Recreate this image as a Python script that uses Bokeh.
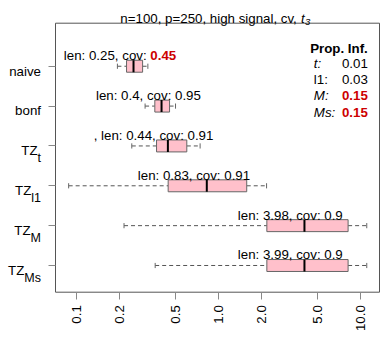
import math
from bokeh.plotting import figure
from bokeh.models import Label, FixedTicker, Range1d, ColumnDataSource
from bokeh.embed import file_html
from bokeh.resources import INLINE

# ---------------- data ----------------
methods = ["naive", "bonf", "TZ_t", "TZ_l1", "TZ_M", "TZ_Ms"]
axis_main = ["naive", "bonf", "TZ", "TZ", "TZ", "TZ"]
axis_sub = ["", "", "t", "l1", "M", "Ms"]
lower_whisker = [0.194, 0.304, 0.245, 0.088, 0.216, 0.358]
q1 = [0.225, 0.356, 0.366, 0.442, 2.19, 2.19]
median = [0.252, 0.397, 0.44, 0.827, 4.03, 4.03]
q3 = [0.292, 0.452, 0.598, 1.58, 8.18, 8.18]
upper_whisker = [0.318, 0.498, 0.742, 2.18, 11.07, 11.07]
len_text = ["0.25", "0.4", "0.44", "0.83", "3.98", "3.99"]
cov_text = ["0.45", "0.95", "0.91", "0.91", "0.9", "0.9"]
label_lead = ["", "", ", ", "", "", ""]
cov_highlight = [True, False, False, False, False, False]
label_x = [0.0814, 0.137, 0.132, 0.270, 1.367, 1.367]   # left edge of each annotation

prop_names = ["t:", "l1:", "M:", "Ms:"]
prop_italic = [True, False, True, True]
prop_values = ["0.01", "0.03", "0.15", "0.15"]
prop_highlight = [False, False, True, True]

x_ticks = [0.1, 0.2, 0.5, 1, 2, 5, 10]
x_tick_labels = ["0.1", "0.2", "0.5", "1.0", "2.0", "5.0", "10.0"]

title_main = "n=100, p=250, high signal, cv, "
title_var = "t"
title_sub = "3"

# ---------------- layout ----------------
W, H = 388, 347
FONT = "Liberation Sans"
FS = "13.3px"
RED = "#CD0000"
XS, XE = 0.0711, 13.61          # plotting box limits (data)
YS, YE = 0.33, 7.08
FL, FT, FW, FH = 55, 22.7, 324, 269   # plotting box in canvas pixels

def xd(px):
    return 10 ** (math.log10(XS) + (px - FL) / FW * (math.log10(XE) - math.log10(XS)))

def xp(v):
    return FL + (math.log10(v) - math.log10(XS)) / (math.log10(XE) - math.log10(XS)) * FW

def yd(py):
    return YE - (py - FT) / FH * (YE - YS)

def yp(v):
    return FT + (YE - v) / (YE - YS) * FH

AW = {' ': 278, ',': 278, '.': 278, ':': 278, 'l': 222, 'e': 556, 'n': 556,
      'c': 500, 'o': 556, 'v': 500, 't': 278, 'M': 833, 's': 500, 'T': 611, 'Z': 611}
def tw(s, size):
    return sum(AW.get(ch, 556) for ch in s) * size / 1000.0

n = len(methods)
ypos = [n - i for i in range(n)]
half = 0.15
cap = 0.065

src = ColumnDataSource(dict(
    y=ypos, lw=lower_whisker, q1=q1, med=median, q3=q3, uw=upper_whisker,
    yb=[v - half for v in ypos], yt=[v + half for v in ypos],
    cb=[v - cap for v in ypos], ct=[v + cap for v in ypos],
))

p = figure(x_axis_type="log", x_range=Range1d(xd(0), xd(W)), y_range=Range1d(yd(H), yd(0)),
           frame_width=W, frame_height=H, min_border=0,
           output_backend="svg", toolbar_location=None, title=None)
p.grid.visible = False
p.background_fill_color = "white"
p.border_fill_color = "white"
p.outline_line_color = None

# plotting box
p.quad(left=[XS], right=[XE], bottom=[YS], top=[YE], fill_color=None,
       line_color="#555555", line_width=1)

# whiskers
wd = dict(line_color="#555555", line_width=1, line_dash="4 3")
p.segment(x0="lw", x1="q1", y0="y", y1="y", source=src, **wd)
p.segment(x0="q3", x1="uw", y0="y", y1="y", source=src, **wd)
p.segment(x0="lw", x1="lw", y0="cb", y1="ct", source=src, line_color="#666666", line_width=1)
p.segment(x0="uw", x1="uw", y0="cb", y1="ct", source=src, line_color="#666666", line_width=1)
# boxes
p.quad(left="q1", right="q3", bottom="yb", top="yt", source=src,
       fill_color="#FFC0CB", line_color="#666666", line_width=1)
p.segment(x0="med", x1="med", y0="yb", y1="yt", source=src, line_color="black", line_width=2)

# x axis
xa = p.xaxis[0]
xa.fixed_location = YS
xa.ticker = FixedTicker(ticks=x_ticks)
xa.major_label_overrides = {t: l for t, l in zip(x_ticks, x_tick_labels)}
xa.major_label_orientation = math.pi / 2
xa.major_label_text_font = FONT
xa.major_label_text_font_size = FS
xa.major_label_text_color = "black"
xa.major_label_standoff = 6
xa.axis_line_color = None
xa.major_tick_line_color = "#888888"
xa.major_tick_out = 7
xa.major_tick_in = 0
xa.minor_tick_line_color = None

ya = p.yaxis[0]
ya.fixed_location = XS
ya.ticker = FixedTicker(ticks=ypos)
ya.major_label_overrides = {v: "" for v in ypos}
ya.axis_line_color = None
ya.major_tick_line_color = "#888888"
ya.major_tick_out = 7
ya.major_tick_in = 0
ya.minor_tick_line_color = None

def lab(px, py, text, align="left", size=FS, style="normal", color="black"):
    p.add_layout(Label(x=xd(px), y=yd(py), text=text, text_align=align,
                       text_baseline="alphabetic", text_font=FONT, text_font_size=size,
                       text_font_style=style, text_color=color))

# y axis labels
RIGHT = 40.5
for i in range(n):
    ty = yp(ypos[i])
    if axis_sub[i] == "":
        lab(RIGHT, ty + 4.8, axis_main[i], align="right")
    else:
        sx = RIGHT - tw(axis_sub[i], 12.5)
        lab(sx, ty + 4.8, axis_main[i], align="right")
        lab(sx, ty + 12.5, axis_sub[i], align="left", size="12.5px")

# annotations above boxes
for i in range(n):
    ty = yp(ypos[i]) - 10.5
    lx = xp(label_x[i])
    prefix = f"{label_lead[i]}len: {len_text[i]}, cov: "
    if cov_highlight[i]:
        lab(lx, ty, prefix)
        lab(lx + tw(prefix, 13.3), ty, cov_text[i], style="bold", color=RED)
    else:
        lab(lx, ty, prefix + cov_text[i])

# legend "Prop. Inf."
LEG_R, LEG_L = 367.3, 313.3
lab(LEG_R, 47.5, "Prop. Inf.", align="right", style="bold")
for j in range(len(prop_names)):
    by = 63.2 + 16.1 * j
    lab(LEG_L, by, prop_names[j], style="italic" if prop_italic[j] else "normal")
    if prop_highlight[j]:
        lab(LEG_R, by, prop_values[j], align="right", style="bold", color=RED)
    else:
        lab(LEG_R, by, prop_values[j], align="right")

# title
lab(300, 18, title_main, align="right")
lab(300.5, 18, title_var, style="italic")
lab(304.6, 21, title_sub, size="9.5px", style="italic")

open("out.html", "w").write(file_html(p, INLINE))
